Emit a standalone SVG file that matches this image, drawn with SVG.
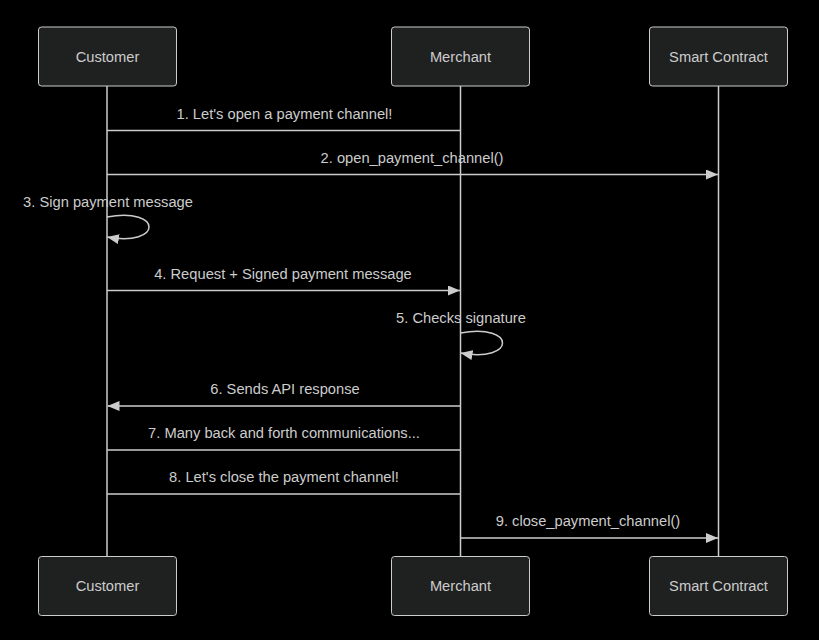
<svg xmlns="http://www.w3.org/2000/svg" width="819" height="640" viewBox="0 0 819 640">
<style>
.bg{fill:#000}
.actor{fill:#1f2020;stroke:#cccccc;stroke-width:1}
.atext{font-family:"Liberation Sans",Arial,sans-serif;font-size:14.7px;fill:#cccccc;text-anchor:middle;dominant-baseline:central}
.life{stroke:#cccccc;stroke-width:1.5}
.msg{stroke:#cccccc;stroke-width:1.5;fill:none}
.mtext{font-family:"Liberation Sans",Arial,sans-serif;font-size:14.7px;fill:#cccccc;text-anchor:middle}
</style>
<defs>
<marker id="arrow" viewBox="0 0 12 10" refX="12" refY="5" markerWidth="12" markerHeight="10" markerUnits="userSpaceOnUse" orient="auto">
<path d="M0,0 L12,5 L0,10 z" fill="#cccccc"/>
</marker>
</defs>
<rect class="bg" x="0" y="0" width="819" height="640"/>
<g id="lifelines">
<line class="life" x1="107" y1="86" x2="107" y2="557"/>
<line class="life" x1="460.5" y1="86" x2="460.5" y2="557"/>
<line class="life" x1="718.5" y1="86" x2="718.5" y2="557"/>
</g>
<g id="customer-top"><rect class="actor" x="38.5" y="27" width="138" height="59" rx="3"/><text class="atext" x="107.5" y="57">Customer</text></g>
<g id="merchant-top"><rect class="actor" x="391.5" y="27" width="138" height="59" rx="3"/><text class="atext" x="460.5" y="57">Merchant</text></g>
<g id="contract-top"><rect class="actor" x="649.5" y="27" width="138" height="59" rx="3"/><text class="atext" x="718.5" y="57">Smart Contract</text></g>
<g id="customer-bottom"><rect class="actor" x="38.5" y="556.5" width="138" height="59" rx="3"/><text class="atext" x="107.5" y="586">Customer</text></g>
<g id="merchant-bottom"><rect class="actor" x="391.5" y="556.5" width="138" height="59" rx="3"/><text class="atext" x="460.5" y="586">Merchant</text></g>
<g id="contract-bottom"><rect class="actor" x="649.5" y="556.5" width="138" height="59" rx="3"/><text class="atext" x="718.5" y="586">Smart Contract</text></g>
<g id="connectors">
<text class="mtext" x="284.5" y="119">1. Let's open a payment channel!</text>
<line class="msg" x1="460.5" y1="130.5" x2="107" y2="130.5"/>
<text class="mtext" x="412" y="163">2. open_payment_channel()</text>
<line class="msg" x1="107" y1="174.5" x2="718" y2="174.5" marker-end="url(#arrow)"/>
<text class="mtext" x="108" y="207">3. Sign payment message</text>
<path class="msg" d="M107,217 C163,207 163,247 107,237" marker-end="url(#arrow)"/>
<text class="mtext" x="283" y="279">4. Request + Signed payment message</text>
<line class="msg" x1="107" y1="290.5" x2="460" y2="290.5" marker-end="url(#arrow)"/>
<text class="mtext" x="461" y="323">5. Checks signature</text>
<path class="msg" d="M460.5,333 C516.5,323 516.5,363 460.5,353" marker-end="url(#arrow)"/>
<text class="mtext" x="285" y="394">6. Sends API response</text>
<line class="msg" x1="460.5" y1="406" x2="107.5" y2="406" marker-end="url(#arrow)"/>
<text class="mtext" x="284" y="438">7. Many back and forth communications...</text>
<line class="msg" x1="460.5" y1="450" x2="107" y2="450"/>
<text class="mtext" x="284" y="482">8. Let's close the payment channel!</text>
<line class="msg" x1="460.5" y1="494" x2="107" y2="494"/>
<text class="mtext" x="588" y="526">9. close_payment_channel()</text>
<line class="msg" x1="460.5" y1="538" x2="718" y2="538" marker-end="url(#arrow)"/>
</g>
</svg>
